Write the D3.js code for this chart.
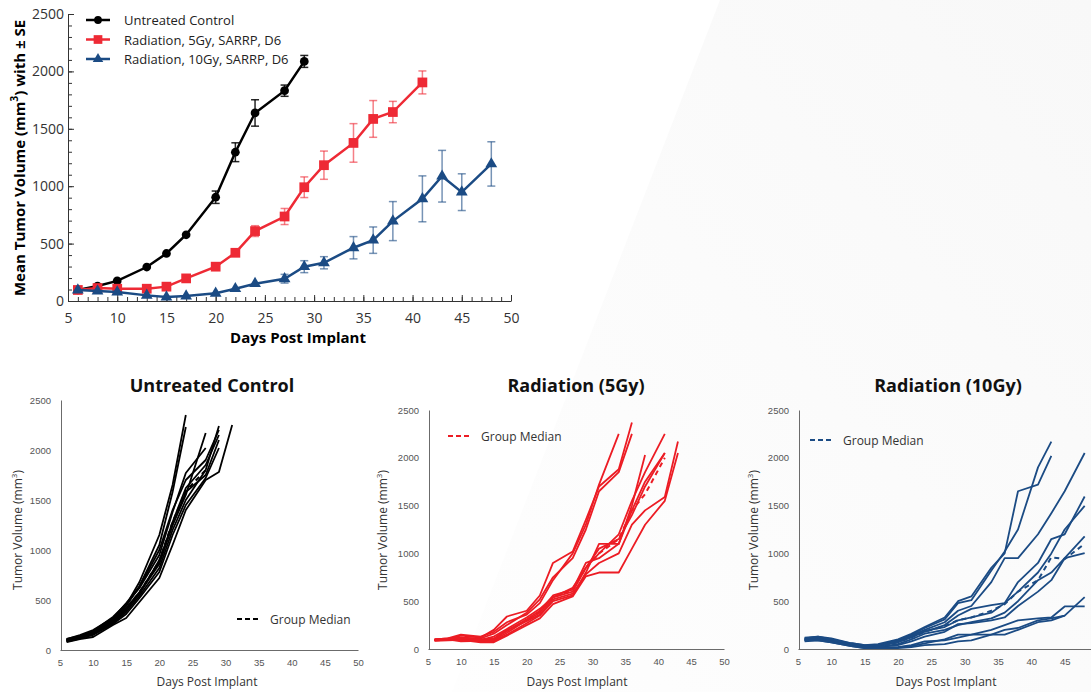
<!DOCTYPE html>
<html>
<head>
<meta charset="utf-8">
<script src="https://cdn.jsdelivr.net/npm/d3@7"></script>
<style>
  body { margin: 0; background: #fff; }
  svg { display: block; font-family: "Open Sans", "Noto Sans", sans-serif; }
</style>
</head>
<body>
<svg id="chart" width="1091" height="692"></svg>
<script>
// ---- top chart: group means with SE ----
const meanDays = [6, 8, 10, 13, 15, 17, 20, 22, 24, 27, 29, 31, 34, 36, 38, 41, 43, 45, 48];
const controlMean = [96, 130, 175, 296, 414, 577, 904, 1296, 1638, 1832, 2087];
const controlSE = [0, 0, 0, 0, 0, 0, 54, 82, 115, 49, 52];
const gy5Mean = [96, 113, 107, 107, 125, 197, 299, 420, 609, 736, 991, 1183, 1377, 1586, 1646, 1904];
const gy5SE = [0, 0, 0, 0, 0, 0, 0, 0, 47, 70, 90, 123, 168, 160, 93, 100];
const gy10Mean = [96, 87, 78, 49, 35, 43, 67, 107, 151, 194, 299, 333, 464, 530, 696, 890, 1087, 948, 1194];
const gy10SE = [0, 0, 0, 0, 0, 0, 0, 0, 0, 38, 52, 53, 97, 115, 170, 200, 225, 160, 193];
const legendLabels = ["Untreated Control", "Radiation, 5Gy, SARRP, D6", "Radiation, 10Gy, SARRP, D6"];

// ---- bottom panels: individual mice (same measurement days) ----
const controlMice = [
  [90, 120, 170, 300, 450, 680, 1150, 1650, 2350],
  [100, 135, 185, 310, 440, 640, 1050, 1580, 2230],
  [110, 140, 190, 330, 460, 620, 950, 1380, 1770, 2020],
  [95, 125, 165, 280, 400, 560, 900, 1250, 1550, 2170],
  [85, 115, 160, 270, 380, 540, 820, 1200, 1500, 1800, 2240],
  [105, 140, 180, 290, 420, 580, 880, 1280, 1620, 1850, 2150],
  [100, 130, 170, 290, 400, 570, 860, 1250, 1580, 1750, 2100],
  [90, 120, 150, 260, 360, 520, 780, 1150, 1450, 1720, 2020],
  [80, 110, 130, 250, 320, 480, 720, 1050, 1400, 1700, 1780, 2250],
  [110, 150, 200, 320, 470, 630, 1000, 1400, 1700, 1900, 2200]
];
const controlMedian = [100, 130, 170, 295, 420, 575, 890, 1280, 1590, 1800];

const gy5Mice = [
  [95, 100, 140, 120, 200, 340, 400, 560, 900, 1020, 1350, 1700, 1880, 2370],
  [90, 95, 120, 110, 160, 250, 380, 520, 750, 950, 1250, 1650, 1850, 2250],
  [100, 110, 150, 130, 180, 280, 360, 480, 720, 1000, 1300, 1720, 2250],
  [90, 95, 100, 80, 80, 150, 270, 350, 500, 560, 800, 1100, 1100, 1500, 2030],
  [95, 100, 110, 90, 90, 170, 300, 380, 540, 600, 850, 1000, 1200, 1550, 1850, 2250],
  [100, 105, 90, 100, 100, 190, 310, 400, 560, 620, 900, 950, 1100, 1450, 1750, 2050],
  [85, 90, 95, 70, 70, 140, 250, 320, 470, 550, 760, 800, 800, 1050, 1300, 1550, 2050],
  [95, 100, 80, 85, 110, 200, 290, 360, 520, 580, 780, 900, 1000, 1300, 1450, 1590, 2170],
  [100, 110, 120, 95, 130, 210, 330, 420, 540, 640, 850, 1050, 1150, 1400, 1700, 2050]
];
const gy5Median = [95, 100, 110, 95, 110, 190, 300, 390, 540, 620, 850, 1000, 1150, 1450, 1620, 2000];

const gy10Mice = [
  [110, 130, 110, 60, 40, 50, 100, 160, 230, 330, 500, 550, 850, 1000, 1650, 1720, 2020],
  [100, 120, 100, 50, 30, 40, 90, 150, 220, 310, 480, 510, 820, 1020, 1250, 1900, 2170],
  [90, 110, 90, 50, 30, 30, 80, 140, 200, 280, 400, 450, 700, 950, 950, 1200, 1420, 1650, 2050],
  [110, 120, 100, 60, 40, 40, 80, 120, 180, 250, 350, 420, 460, 480, 700, 900, 1150, 1200, 1595],
  [100, 110, 90, 40, 30, 30, 70, 130, 190, 230, 300, 330, 380, 480, 600, 800, 1000, 1250, 1497],
  [90, 100, 80, 40, 20, 20, 50, 100, 160, 200, 250, 280, 320, 380, 500, 720, 800, 950, 1177],
  [120, 130, 100, 50, 20, 20, 40, 80, 130, 180, 260, 270, 300, 330, 450, 600, 720, 950, 1003],
  [80, 90, 70, 30, 10, 10, 20, 30, 60, 100, 150, 150, 150, 200, 220, 300, 320, 350, 543],
  [100, 100, 80, 40, 20, 10, 20, 40, 80, 90, 120, 150, 200, 250, 300, 320, 330, 445, 445],
  [90, 90, 70, 30, 10, 10, 10, 20, 40, 50, 80, 90, 150, 150, 200, 280, 300, 350]
];
const gy10Median = [100, 110, 90, 45, 25, 25, 70, 120, 180, 240, 300, 330, 400, 470, 600, 720, 960, 940, 1100];

const xTicks = [5, 10, 15, 20, 25, 30, 35, 40, 45, 50];
const yTicks = [0, 500, 1000, 1500, 2000, 2500];

const BLACK = "#000000", RED = "#ee2a35", BLUE = "#1b4b84";
const fmt = d3.format("d");

const svg = d3.select("#chart");

// faint background shape
const defs = svg.append("defs");
const grad = defs.append("linearGradient").attr("id", "bg")
  .attr("x1", "100%").attr("y1", "0%").attr("x2", "0%").attr("y2", "100%");
grad.append("stop").attr("offset", "0%").attr("stop-color", "#f8f8f8");
grad.append("stop").attr("offset", "100%").attr("stop-color", "#fefefe");
svg.append("path")
  .attr("d", "M720,0 L1091,0 L1091,692 L452,692 Z")
  .attr("fill", "url(#bg)");

// ================= top chart =================
const tx = d3.scaleLinear().domain([5, 50]).range([68, 511]);
const ty = d3.scaleLinear().domain([0, 2500]).range([301, 14]);
const mainG = svg.append("g");

// minor ticks
mainG.append("g").attr("transform", "translate(0,301)")
  .call(d3.axisBottom(tx).tickValues(d3.range(5, 51)).tickSize(-4).tickFormat(""))
  .call(g => g.select(".domain").remove())
  .call(g => g.selectAll("line").attr("stroke", "#333"));
mainG.append("g").attr("transform", "translate(68,0)")
  .call(d3.axisLeft(ty).tickValues(d3.range(0, 2501, 100)).tickSize(-4).tickFormat(""))
  .call(g => g.select(".domain").remove())
  .call(g => g.selectAll("line").attr("stroke", "#333"));

mainG.append("g").attr("transform", "translate(0,301)")
  .call(d3.axisBottom(tx).tickValues(xTicks).tickFormat(fmt).tickSizeInner(-6).tickSizeOuter(0).tickPadding(12))
  .call(g => g.select(".domain").attr("stroke", "#333"))
  .call(g => g.selectAll("line").attr("stroke", "#333"))
  .call(g => g.selectAll("text").attr("font-size", 14).attr("fill", "#333")
    .attr("font-family", "Open Sans, sans-serif"));
mainG.append("g").attr("transform", "translate(68,0)")
  .call(d3.axisLeft(ty).tickValues(yTicks).tickFormat(fmt).tickSizeInner(-6).tickSizeOuter(0).tickPadding(4))
  .call(g => g.select(".domain").attr("stroke", "#333"))
  .call(g => g.selectAll("line").attr("stroke", "#333"))
  .call(g => g.selectAll("text").attr("font-size", 14).attr("fill", "#333")
    .attr("font-family", "Open Sans, sans-serif"));

mainG.append("text").attr("x", 298).attr("y", 343).attr("text-anchor", "middle")
  .attr("font-size", 15).attr("font-weight", "bold").text("Days Post Implant");
const yl = mainG.append("text").attr("transform", "translate(25,158) rotate(-90)")
  .attr("text-anchor", "middle").attr("font-size", 15).attr("font-weight", "bold");
yl.append("tspan").text("Mean Tumor Volume (mm");
yl.append("tspan").attr("font-size", 10).attr("dy", -7).text("3");
yl.append("tspan").attr("dy", 7).text(") with \u00b1 SE");

const topSeries = [
  { mean: controlMean, se: controlSE, color: BLACK, shape: d3.symbolCircle, size: 60 },
  { mean: gy5Mean, se: gy5SE, color: RED, shape: d3.symbolSquare, size: 95 },
  { mean: gy10Mean, se: gy10SE, color: BLUE, shape: d3.symbolTriangle, size: 60 }
];

topSeries.forEach(s => {
  const pts = s.mean.map((v, i) => ({ d: meanDays[i], v: v, e: s.se[i] }));
  const eb = mainG.append("g").attr("stroke", s.color).attr("stroke-width", 1.5)
    .attr("stroke-opacity", s.color === BLACK ? 0.85 : 0.6);
  pts.filter(p => p.e > 0).forEach(p => {
    const x = tx(p.d);
    eb.append("line").attr("x1", x).attr("x2", x).attr("y1", ty(p.v + p.e)).attr("y2", ty(p.v - p.e));
    eb.append("line").attr("x1", x - 4).attr("x2", x + 4).attr("y1", ty(p.v + p.e)).attr("y2", ty(p.v + p.e));
    eb.append("line").attr("x1", x - 4).attr("x2", x + 4).attr("y1", ty(p.v - p.e)).attr("y2", ty(p.v - p.e));
  });
  mainG.append("path").datum(pts)
    .attr("fill", "none").attr("stroke", s.color).attr("stroke-width", 2.5)
    .attr("d", d3.line().x(p => tx(p.d)).y(p => ty(p.v)));
  mainG.append("g").selectAll("path").data(pts).join("path")
    .attr("transform", p => `translate(${tx(p.d)},${ty(p.v)})`)
    .attr("d", d3.symbol().type(s.shape).size(s.size))
    .attr("fill", s.color);
});

// legend for the top chart
legendLabels.forEach((lab, i) => {
  const s = topSeries[i];
  const y = 20 + i * 19.5;
  mainG.append("line").attr("x1", 86).attr("x2", 110).attr("y1", y).attr("y2", y)
    .attr("stroke", s.color).attr("stroke-width", 2.5);
  mainG.append("path").attr("transform", `translate(98,${y})`)
    .attr("d", d3.symbol().type(s.shape).size(s.size * 0.8)).attr("fill", s.color);
  mainG.append("text").attr("x", 124).attr("y", y + 5).attr("font-size", 13)
    .attr("fill", "#222").text(lab);
});

// ================= bottom panels =================
const panels = [
  { title: "Untreated Control", mice: controlMice, median: controlMedian, color: BLACK,
    x0: 60, x1: 358, y0: 650, y1: 400, titleX: 212, yLabX: 22, xLabX: 207,
    legX: 237, legY: 619 },
  { title: "Radiation (5Gy)", mice: gy5Mice, median: gy5Median, color: "#ec1c24",
    x0: 428, x1: 724, y0: 649, y1: 410, titleX: 576, yLabX: 387, xLabX: 577,
    legX: 448, legY: 436 },
  { title: "Radiation (10Gy)", mice: gy10Mice, median: gy10Median, color: BLUE,
    x0: 798, x1: 1098, y0: 649, y1: 410, titleX: 948, yLabX: 758, xLabX: 946,
    legX: 810, legY: 440 }
];

panels.forEach(p => {
  const g = svg.append("g");
  const x = d3.scaleLinear().domain([5, 50]).range([p.x0, p.x1]);
  const y = d3.scaleLinear().domain([0, 2500]).range([p.y0, p.y1]);

  g.append("g").attr("transform", `translate(0,${p.y0})`)
    .call(d3.axisBottom(x).tickValues(xTicks).tickFormat(fmt).tickSize(0).tickPadding(9))
    .call(a => a.select(".domain").attr("stroke", "#6b6b6b"))
    .call(a => a.selectAll("text").attr("font-size", 9.5).attr("fill", "#555"));
  g.append("g").attr("transform", `translate(${p.x0 + 1},0)`)
    .call(d3.axisLeft(y).tickValues(yTicks).tickFormat(fmt).tickSize(0).tickPadding(10))
    .call(a => a.select(".domain").attr("stroke", "#6b6b6b"))
    .call(a => a.selectAll("text").attr("font-size", 9.5).attr("fill", "#555"));

  g.append("text").attr("x", p.titleX).attr("y", 392).attr("text-anchor", "middle")
    .attr("font-size", 18).attr("font-weight", "bold").attr("fill", "#111").text(p.title);
  g.append("text").attr("x", p.xLabX).attr("y", 686).attr("text-anchor", "middle")
    .attr("font-size", 12).attr("fill", "#333").text("Days Post Implant");
  const t = g.append("text").attr("transform", `translate(${p.yLabX},530) rotate(-90)`)
    .attr("text-anchor", "middle").attr("font-size", 12).attr("fill", "#333");
  t.append("tspan").text("Tumor Volume (mm");
  t.append("tspan").attr("font-size", 8).attr("dy", -5).text("3");
  t.append("tspan").attr("dy", 5).text(")");

  const line = d3.line().x((v, i) => x(meanDays[i])).y(v => y(v));
  g.append("path").datum(p.median).attr("fill", "none").attr("stroke", p.color)
    .attr("stroke-width", 2).attr("stroke-dasharray", "5,4").attr("d", line);
  g.append("g").selectAll("path").data(p.mice).join("path")
    .attr("fill", "none").attr("stroke", p.color).attr("stroke-width", 1.8)
    .attr("stroke-linejoin", "round").attr("d", line);

  g.append("line").attr("x1", p.legX).attr("x2", p.legX + 21).attr("y1", p.legY).attr("y2", p.legY)
    .attr("stroke", p.color).attr("stroke-width", 2).attr("stroke-dasharray", "5,3");
  g.append("text").attr("x", p.legX + 33).attr("y", p.legY + 4.5).attr("font-size", 12)
    .attr("fill", "#333").text("Group Median");
});
</script>
</body>
</html>
